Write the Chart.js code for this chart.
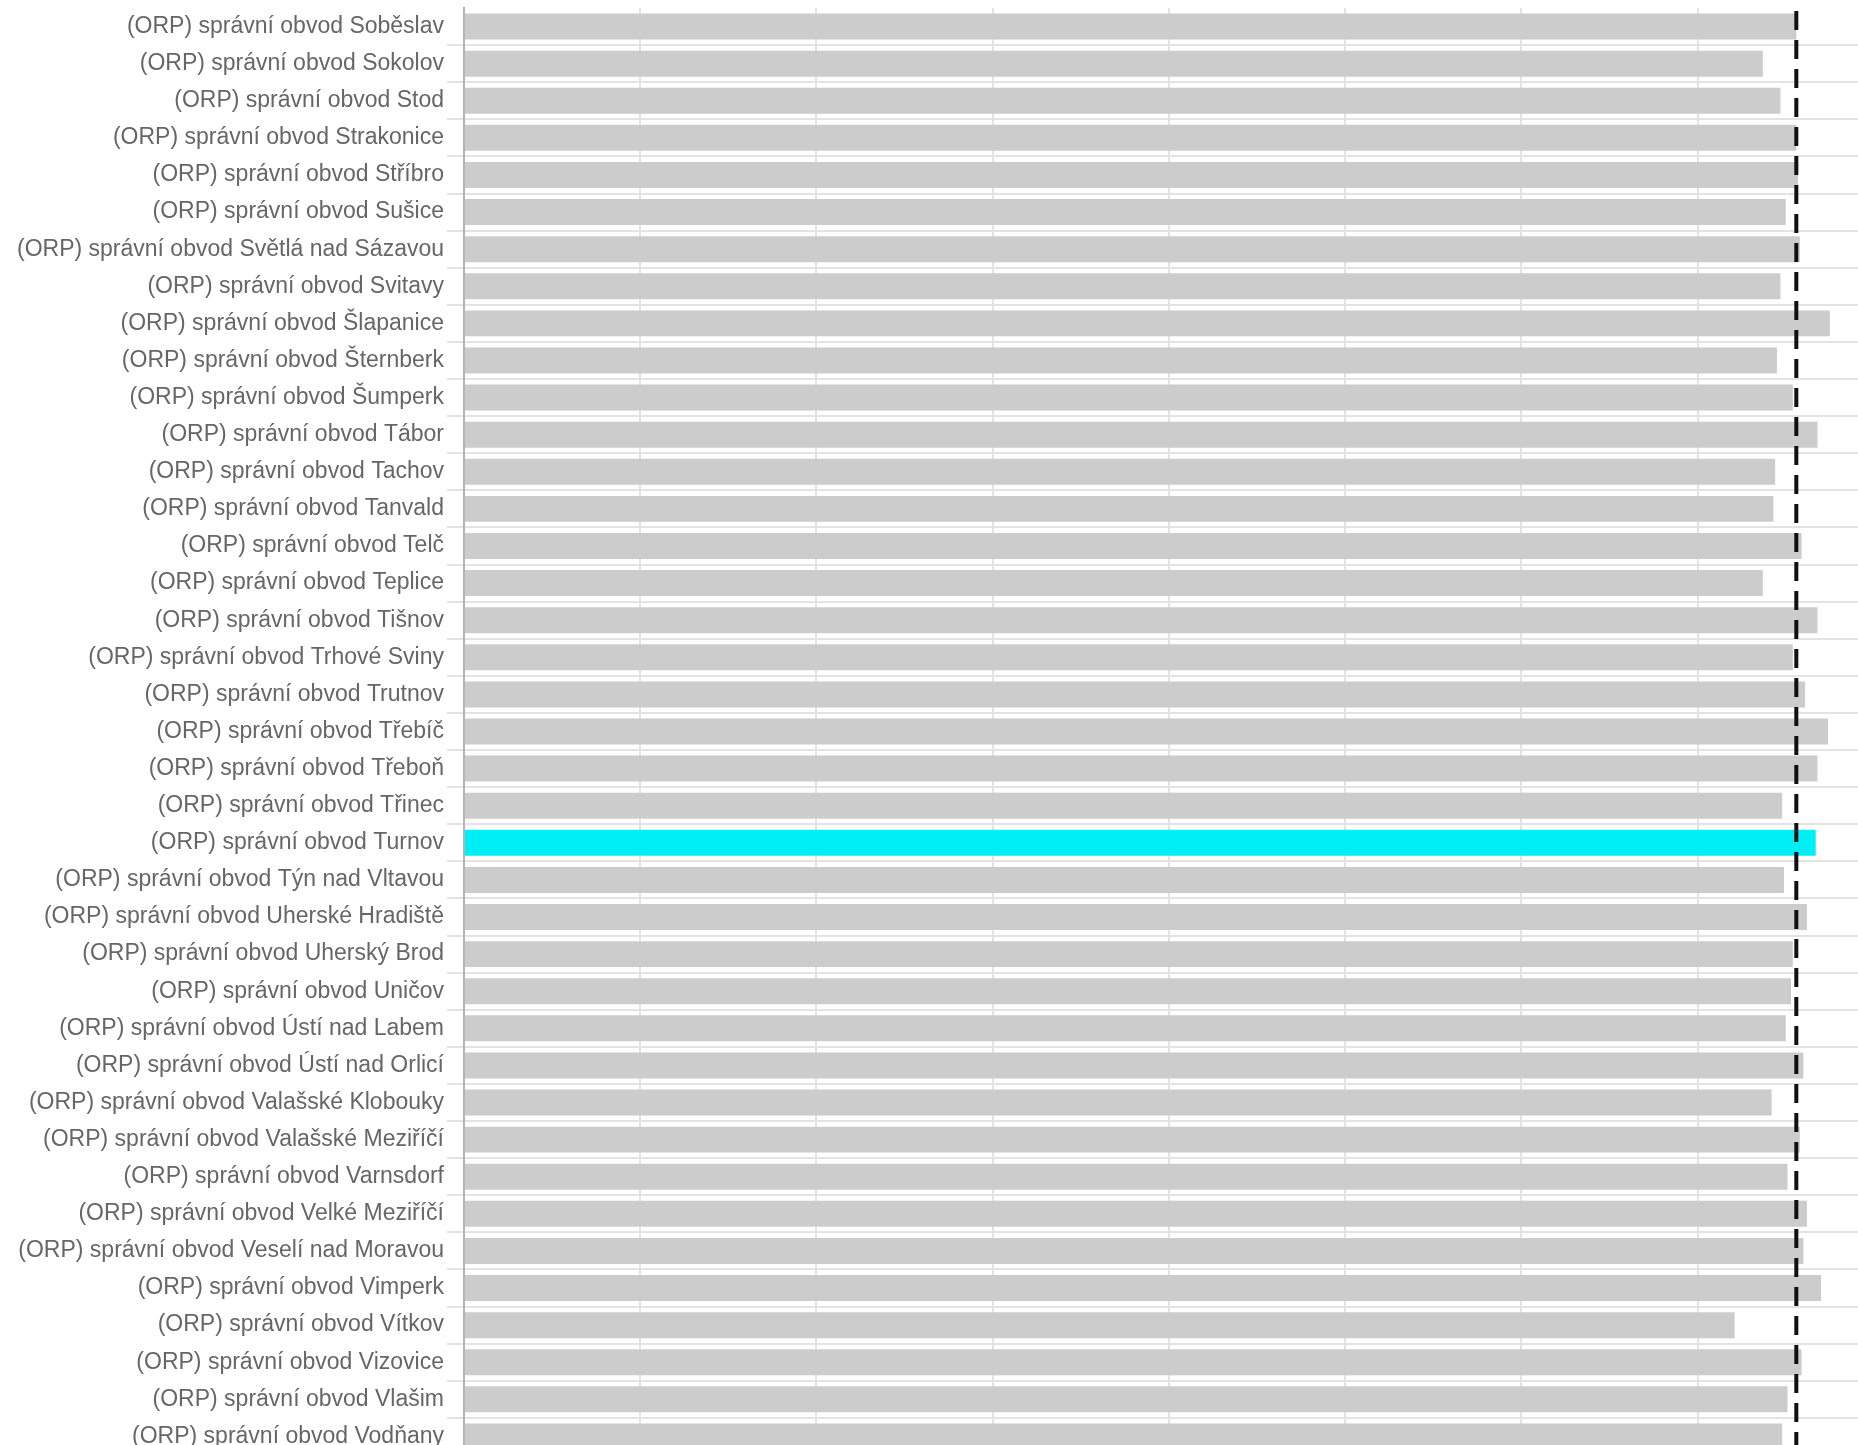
<!DOCTYPE html>
<html>
<head>
<meta charset="utf-8">
<script src="https://cdn.jsdelivr.net/npm/chart.js@4"></script>
<style>
  html, body { margin: 0; padding: 0; background: #fff; overflow: hidden; }
  #wrap { width: 1858px; height: 1455px; }
</style>
</head>
<body>
<div id="wrap"><canvas id="chart-canvas" width="1858" height="1455"></canvas></div>
<script>
var districts = [
    '(ORP) správní obvod Soběslav',
    '(ORP) správní obvod Sokolov',
    '(ORP) správní obvod Stod',
    '(ORP) správní obvod Strakonice',
    '(ORP) správní obvod Stříbro',
    '(ORP) správní obvod Sušice',
    '(ORP) správní obvod Světlá nad Sázavou',
    '(ORP) správní obvod Svitavy',
    '(ORP) správní obvod Šlapanice',
    '(ORP) správní obvod Šternberk',
    '(ORP) správní obvod Šumperk',
    '(ORP) správní obvod Tábor',
    '(ORP) správní obvod Tachov',
    '(ORP) správní obvod Tanvald',
    '(ORP) správní obvod Telč',
    '(ORP) správní obvod Teplice',
    '(ORP) správní obvod Tišnov',
    '(ORP) správní obvod Trhové Sviny',
    '(ORP) správní obvod Trutnov',
    '(ORP) správní obvod Třebíč',
    '(ORP) správní obvod Třeboň',
    '(ORP) správní obvod Třinec',
    '(ORP) správní obvod Turnov',
    '(ORP) správní obvod Týn nad Vltavou',
    '(ORP) správní obvod Uherské Hradiště',
    '(ORP) správní obvod Uherský Brod',
    '(ORP) správní obvod Uničov',
    '(ORP) správní obvod Ústí nad Labem',
    '(ORP) správní obvod Ústí nad Orlicí',
    '(ORP) správní obvod Valašské Klobouky',
    '(ORP) správní obvod Valašské Meziříčí',
    '(ORP) správní obvod Varnsdorf',
    '(ORP) správní obvod Velké Meziříčí',
    '(ORP) správní obvod Veselí nad Moravou',
    '(ORP) správní obvod Vimperk',
    '(ORP) správní obvod Vítkov',
    '(ORP) správní obvod Vizovice',
    '(ORP) správní obvod Vlašim',
    '(ORP) správní obvod Vodňany'
];

var values = [
    75.6, 73.7, 74.7, 75.6, 75.7, 75.0, 75.8, 74.7, 77.5, 74.5,
    75.4, 76.8, 74.4, 74.3, 75.9, 73.7, 76.8, 75.4, 76.1, 77.4,
    76.8, 74.8, 76.7, 74.9, 76.2, 75.4, 75.3, 75.0, 76.0, 74.2,
    75.8, 75.1, 76.2, 76.0, 77.0, 72.1, 75.9, 75.1, 74.8
];

var selected = '(ORP) správní obvod Turnov';
var average = 75.6;

var xMax = 79.1;
var xStep = 10;

var barColors = districts.map(function (d) { return d === selected ? '#00eff5' : '#cccccc'; });

// dashed vertical marker for the overall average
var averageLine = {
    id: 'averageLine',
    afterDatasetsDraw: function (chart) {
        var c = chart.ctx;
        var area = chart.chartArea;
        var x = chart.scales.x.getPixelForValue(average);
        c.save();
        c.beginPath();
        c.setLineDash([19, 10]);
        c.lineWidth = 4;
        c.strokeStyle = '#111111';
        c.moveTo(x, area.top + 3);
        c.lineTo(x, area.bottom);
        c.stroke();
        c.restore();
    }
};

var ctx = document.getElementById('chart-canvas').getContext('2d');

var chart = new Chart(ctx, {
    type: 'bar',
    data: {
        labels: districts,
        datasets: [{
            data: values,
            backgroundColor: barColors,
            borderWidth: 0,
            barPercentage: 0.7,
            categoryPercentage: 1.0
        }]
    },
    options: {
        indexAxis: 'y',
        responsive: false,
        animation: false,
        devicePixelRatio: 1,
        layout: { padding: { top: 8, left: 0, right: 0, bottom: 0 } },
        plugins: {
            legend: { display: false },
            tooltip: { enabled: false }
        },
        scales: {
            x: {
                min: 0,
                max: xMax,
                ticks: { display: false, stepSize: xStep, includeBounds: false },
                grid: { color: '#e3e3e3', lineWidth: 2, drawTicks: false },
                border: { display: false },
                afterFit: function (scale) {
                    scale.height = 0;
                    scale.paddingLeft = 0;
                    scale.paddingRight = 0;
                }
            },
            y: {
                ticks: {
                    color: '#666666',
                    padding: 3,
                    font: { family: '"Liberation Sans", Arial, sans-serif', size: 23 }
                },
                grid: {
                    offset: true,
                    tickLength: 17,
                    lineWidth: 2,
                    color: function (c) { return c.index === 0 ? 'rgba(0,0,0,0)' : '#e3e3e3'; }
                },
                border: { color: '#b4b4b4', width: 2 },
                afterFit: function (scale) {
                    // fixed label column; no extra room for the edge labels
                    scale.width = 464;
                    scale.paddingTop = 0;
                    scale.paddingBottom = 0;
                }
            }
        }
    },
    plugins: [averageLine]
});
</script>
</body>
</html>
